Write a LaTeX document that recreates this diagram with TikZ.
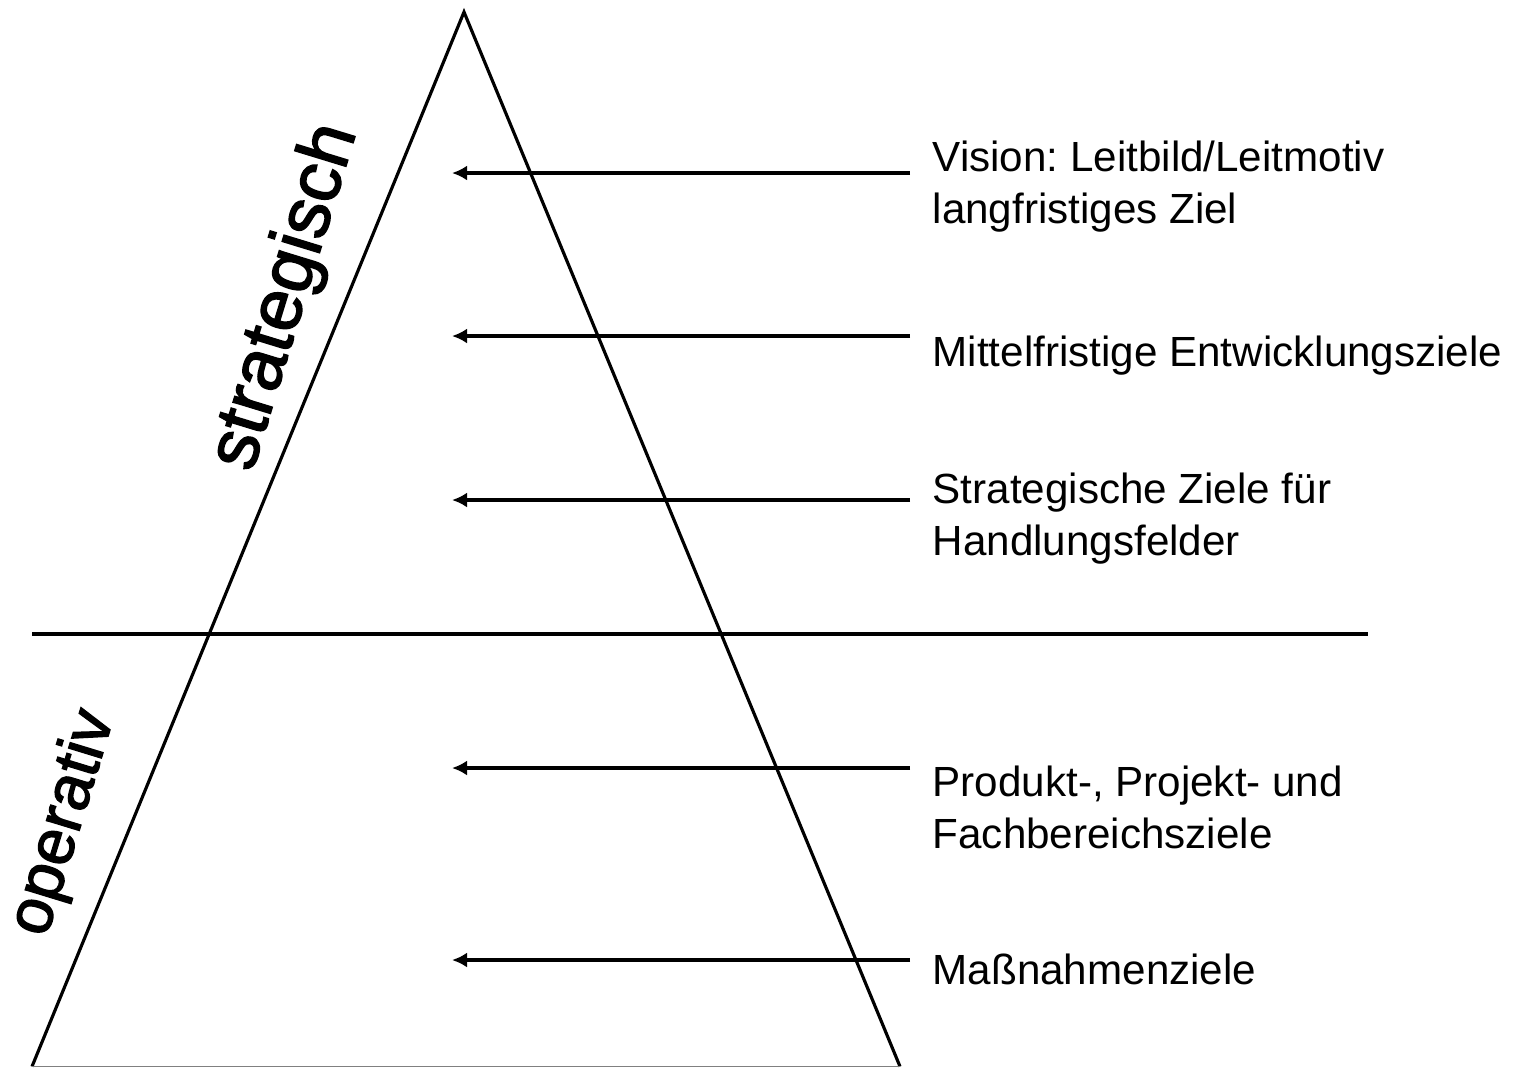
\documentclass[tikz,border=0pt]{standalone}
\usepackage{fontspec}
\setmainfont{Liberation Sans}
\newfontfamily\ebenefont[FakeBold=2]{Liberation Sans}
\frenchspacing
\usetikzlibrary{arrows.meta}

\tikzset{
    pfeil/.style={-{Latex[length=0.15cm, width=0.15cm]}, line width=0.9pt},
    ziel/.style={anchor=north west, inner sep=0pt, align=left,
        font=\fontsize{12}{14.8}\selectfont},
    ebene/.style={rotate=73, inner sep=0pt}
}

\begin{document}
\begin{tikzpicture}[scale=1]
        \useasboundingbox (0, 0) rectangle (15.13, -10.67);

        \coordinate (spitze) at (4.64, -0.12);
        \coordinate (links) at (0.32, -10.665);
        \coordinate (rechts) at (9.00, -10.665);
        \draw[line width=0.9pt] (links) -- (spitze) -- (rechts);
        \draw[line width=0.5pt, gray] (links) -- (rechts);

        \coordinate (trennl) at (0.32, -6.34);
        \coordinate (trennr) at (13.68, -6.34);
        \draw[line width=0.9pt] (trennl) -- (trennr);

        \foreach \y/\n in {1.73/a, 3.36/b, 5.00/c, 7.68/d, 9.60/e} {
            \coordinate (s\n) at (9.10, -\y);
            \coordinate (t\n) at (4.52, -\y);
            \draw[pfeil] (s\n) -- (t\n);
        }

        \node[ziel] (vision) at (9.32, -1.40) {Vision: Leitbild/Leitmotiv\\langfristiges Ziel};
        \node[ziel] (mittel) at (9.32, -3.35) {Mittelfristige Entwicklungsziele};
        \node[ziel] (strat) at (9.32, -4.72) {Strategische Ziele für\\Handlungsfelder};
        \node[ziel] (produkt) at (9.32, -7.65) {Produkt-, Projekt- und\\Fachbereichsziele};
        \node[ziel] (massn) at (9.32, -9.53) {Maßnahmenziele};

        \node[ebene, font=\ebenefont\fontsize{21}{24}\selectfont] (strategisch) at (2.86, -2.97) {strategisch};
        \node[ebene, font=\ebenefont\fontsize{18.5}{21}\selectfont] (operativ) at (0.64, -8.23) {operativ};
    \end{tikzpicture}
\end{document}
